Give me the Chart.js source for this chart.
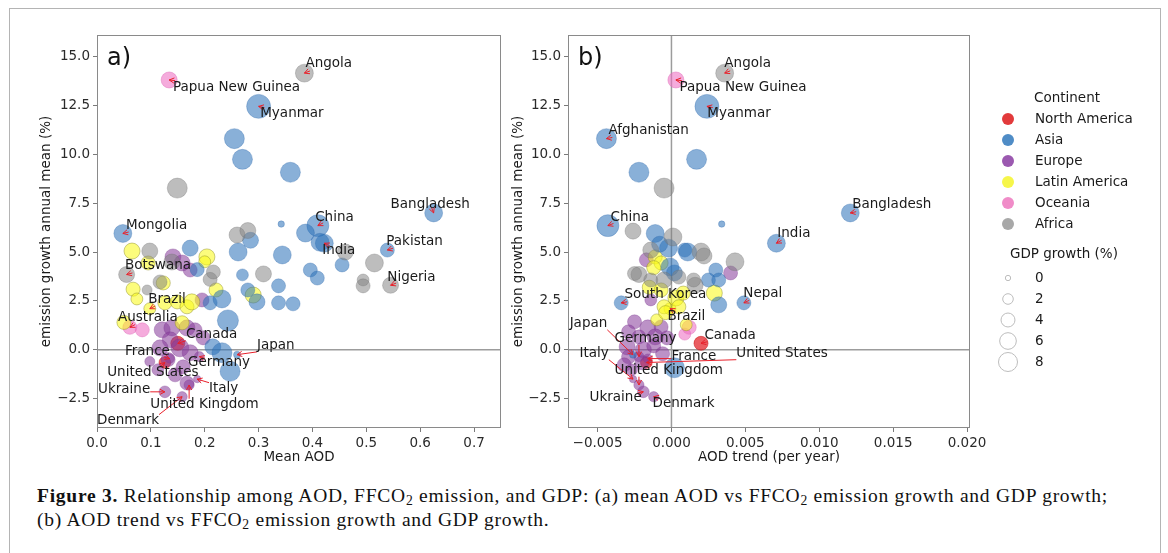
<!DOCTYPE html>
<html>
<head>
<meta charset="utf-8">
<script src="https://cdn.jsdelivr.net/npm/chart.js@4.4.0/dist/chart.umd.min.js"></script>
<style>
body{margin:0;background:#fff;width:1168px;height:553px;overflow:hidden;position:relative;font-family:"DejaVu Sans"}
#frame{position:absolute;left:9px;top:8px;width:1150px;height:600px;border:1.5px solid #b4b4b4}
#ca{position:absolute;left:0;top:0}
#cb{position:absolute;left:470px;top:0}
#cap{position:absolute;left:37px;top:484px;font-family:"Liberation Serif";font-size:19.5px;line-height:24px;color:#111;white-space:nowrap}
#cap sub{font-size:70%;vertical-align:-0.25em;line-height:0}
</style>
</head>
<body>
<div id="frame"></div>
<canvas id="ca" width="520" height="470"></canvas>
<canvas id="cb" width="690" height="470"></canvas>
<div id="cap"><span id="l1"><b>Figure 3.</b> Relationship among AOD, FFCO<sub>2</sub> emission, and GDP: (a) mean AOD vs FFCO<sub>2</sub> emission growth and GDP growth;</span><br>(b) AOD trend vs FFCO<sub>2</sub> emission growth and GDP growth.</div>
<script>
// labelled countries (same values in both panels)
const countries = ['Angola','Papua New Guinea','Myanmar','Afghanistan','Bangladesh','China','Mongolia','India','Pakistan','Nigeria','Botswana','Nepal','South Korea','Brazil','Australia','Canada','Japan','Germany','France','United States','United Kingdom','Italy','Ukraine','Denmark'];
const continentOf = ['Africa','Oceania','Asia','Asia','Asia','Asia','Asia','Asia','Asia','Africa','Africa','Asia','Asia','Latin America','Oceania','North America','Asia','Europe','Europe','North America','Europe','Europe','Europe','Europe'];
const emissionGrowth = [14.15,13.8,12.45,10.8,7.0,6.35,5.95,5.45,5.1,3.3,3.85,2.4,2.4,2.1,1.15,0.33,-0.25,-0.35,-0.45,-0.65,-1.8,-1.5,-2.15,-2.4];
const meanAOD = [0.385,0.134,0.30,0.255,0.625,0.41,0.048,0.422,0.539,0.545,0.055,0.337,0.21,0.098,0.061,0.15,0.26,0.19,0.135,0.126,0.171,0.186,0.126,0.158];
const aodTrend = [0.0036,0.0003,0.0024,-0.0044,0.0121,-0.0043,-0.0011,0.0071,0.0009,0.0016,-0.0022,0.0049,-0.0034,-0.0001,0.0012,0.002,-0.0026,-0.0022,-0.0016,-0.0017,-0.0022,-0.0026,-0.0019,-0.0012];
const gdpGrowth = [6.3,4.9,11.8,8,6.3,9.8,6.3,6.3,3.6,4.9,4.9,3.6,3.6,2.4,3.6,3.6,0.4,1.5,1.2,2.3,1.6,0.5,2.3,1.6];

// other countries, panel a: [mean AOD, emission growth, GDP growth]
const asiaA = [[0.27,9.74,8],[0.359,9.08,8],[0.342,6.43,0.2],[0.387,5.97,6.3],[0.414,5.5,6.3],[0.173,5.2,4.9],[0.262,5.0,6.3],[0.285,5.6,4.9],[0.344,4.85,6.3],[0.27,3.83,2.4],[0.186,4.1,3.6],[0.28,3.06,3.6],[0.297,2.45,4.9],[0.364,2.35,3.6],[0.232,2.6,6.3],[0.243,1.5,9],[0.215,0.15,4.9],[0.232,-0.15,8],[0.247,-1.1,8],[0.455,4.34,3.6],[0.396,4.08,3.6],[0.409,3.67,3.6],[0.337,3.27,3.6]];
const africaA = [[0.149,8.27,8],[0.26,5.87,4.9],[0.28,6.1,4.9],[0.098,5.05,4.9],[0.093,3.06,1.5],[0.117,3.47,3.6],[0.139,4.49,4.9],[0.21,3.6,3.6],[0.216,3.98,3.6],[0.309,3.88,4.9],[0.461,5.0,4.9],[0.515,4.44,6.3],[0.494,3.57,2.4],[0.494,3.27,3.6]];
const latinA = [[0.065,5.05,4.9],[0.067,3.1,3.6],[0.074,2.6,2.4],[0.095,4.44,3.6],[0.123,3.42,3.6],[0.126,2.4,3.6],[0.149,2.45,3.6],[0.167,2.2,3.6],[0.176,2.45,4.9],[0.204,4.75,4.9],[0.2,4.5,2.4],[0.221,3.06,3.6],[0.29,2.8,4.9],[0.158,1.38,3.6],[0.05,1.4,3.6]];
const europeA = [[0.141,4.75,4.9],[0.158,4.44,4.9],[0.173,4.08,3.6],[0.195,2.55,3.6],[0.121,1.02,4.9],[0.139,1.12,4.9],[0.167,1.12,4.9],[0.182,1.02,3.6],[0.136,0.51,4.9],[0.117,0.1,4.9],[0.154,0.1,6.3],[0.173,-0.15,4.9],[0.132,-0.5,3.6],[0.098,-0.6,1.5],[0.16,-0.87,3.6],[0.113,-1.02,2.4],[0.145,-1.28,3.6],[0.167,-1.7,3.6],[0.197,0.61,3.6]];
const oceaniaA = [[0.084,1.02,3.6]];
const northAmA = [];

// other countries, panel b: [AOD trend, emission growth, GDP growth]
const asiaB = [[-0.0022,9.08,8],[0.0017,9.74,8],[0.0034,6.43,0.2],[-0.0002,5.2,6.3],[0.003,4.08,3.6],[0.0025,3.57,3.6],[0.0032,3.57,3.6],[0.0032,2.3,4.9],[0.0002,3.93,4.9],[-0.0001,4.24,6.3],[0.0002,-0.92,8],[0.0011,5.0,6.3],[-0.0008,5.4,4.9]];
const africaB = [[-0.0005,8.27,8],[-0.0026,6.07,4.9],[0.0001,5.77,6.3],[0.002,5.0,6.3],[0.0043,4.5,6.3],[-0.0014,5.1,4.9],[-0.0014,3.57,3.6],[-0.0005,3.57,4.9],[0.0005,3.72,3.6],[0.0015,3.57,3.6],[-0.0025,3.9,3.6],[0.0022,4.8,4.9]];
const latinB = [[-0.0011,4.75,3.6],[-0.0007,4.44,3.6],[-0.0015,3.2,3.6],[-0.0007,3.06,3.6],[0.0003,2.65,4.9],[0.0005,2.2,3.6],[-0.0005,2.2,3.6],[-0.001,1.53,2.4],[0.001,1.28,2.4],[0.0029,2.9,4.9],[-0.0012,4.2,3.6],[0.0008,2.9,3.6],[-0.0004,1.9,3.6]];
const europeB = [[0.004,3.93,3.6],[-0.0017,4.6,3.6],[-0.0014,2.55,2.4],[-0.0025,1.43,3.6],[-0.0016,1.12,4.9],[-0.0007,1.17,3.6],[-0.0029,0.92,3.6],[-0.0022,0.66,3.6],[-0.0011,0.66,4.9],[-0.0003,0.61,3.6],[-0.003,0.15,4.9],[-0.0019,0.0,4.9],[-0.0029,-0.36,3.6],[-0.0032,-0.77,3.6],[-0.002,-0.66,3.6],[-0.0027,-1.02,2.4],[-0.0012,0.2,3.6],[-0.0006,-0.2,3.6]];
const oceaniaB = [[0.0009,0.8,2.4]];
const northAmB = [];

const emissionTicks = [-2.5,0,2.5,5,7.5,10,12.5,15];
const aodTicks = [0,0.1,0.2,0.3,0.4,0.5,0.6,0.7];
const trendTicks = [-0.005,0,0.005,0.01,0.015,0.02];
const continents = ['North America','Asia','Europe','Latin America','Oceania','Africa'];
const gdpLegend = [0,2,4,6,8];

// label text anchors (left, middle) in data units
const labelPosA = [['Angola',0.387,14.64],['Papua New Guinea',0.141,13.42],['Myanmar',0.303,12.09],['Mongolia',0.054,6.38],['China',0.405,6.79],['India',0.418,5.1],['Bangladesh',0.545,7.45],['Pakistan',0.537,5.56],['Nigeria',0.539,3.72],['Botswana',0.052,4.29],['Brazil',0.095,2.55],['Australia',0.039,1.63],['Canada',0.165,0.77],['France',0.052,-0.1],['Germany',0.169,-0.66],['Japan',0.297,0.2],['United States',0.019,-1.17],['Italy',0.208,-1.99],['Ukraine',0.002,-2.04],['United Kingdom',0.099,-2.81],['Denmark',0.0,-3.62]];
const labelPosB = [['Angola',0.00358,14.64],['Papua New Guinea',0.00054,13.42],['Myanmar',0.00243,12.09],['Afghanistan',-0.00426,11.22],['China',-0.00412,6.79],['India',0.00716,5.97],['Bangladesh',0.01223,7.45],['Nepal',0.00486,2.86],['South Korea',-0.00318,2.81],['Brazil',-0.00027,1.68],['Canada',0.00223,0.71],['Japan',-0.00689,1.33],['Germany',-0.00385,0.56],['Italy',-0.00622,-0.2],['France',0.0,-0.36],['United States',0.00439,-0.2],['United Kingdom',-0.00385,-1.07],['Ukraine',-0.00554,-2.45],['Denmark',-0.00128,-2.76]];

const FONT = 'DejaVu Sans';
const fill = {'North America':'rgba(226,30,36,0.72)','Asia':'rgba(45,115,185,0.56)','Europe':'rgba(135,60,155,0.56)','Latin America':'rgba(250,250,30,0.58)','Oceania':'rgba(238,110,195,0.58)','Africa':'rgba(128,128,128,0.52)'};
const edge = {'North America':'rgba(200,20,20,0.5)','Asia':'rgba(40,100,170,0.3)','Europe':'rgba(120,50,140,0.3)','Latin America':'rgba(140,140,40,0.45)','Oceania':'rgba(220,100,180,0.4)','Africa':'rgba(110,110,110,0.3)'};
const dot = {'North America':'#e23a3b','Asia':'#4f8cc6','Europe':'#9b59b0','Latin America':'#f6f64a','Oceania':'#f08cc8','Africa':'#a8a8a8'};

function radius(g){ return Math.sqrt(8 + 11.5*g); }
function fmt(v, d){ return v.toFixed(d).replace('-', '\u2212'); }

function datasetsFor(xs, others){
  const order = ['Africa','Asia','Latin America','Europe','Oceania','North America'];
  return order.map(c => {
    const pts = [];
    countries.forEach((n,i) => { if (continentOf[i] === c) pts.push({x:xs[i], y:emissionGrowth[i], r:radius(gdpGrowth[i])}); });
    others[c].forEach(p => pts.push({x:p[0], y:p[1], r:radius(p[2])}));
    return {label:c, data:pts, backgroundColor:fill[c], borderColor:edge[c], borderWidth:1};
  });
}

function arrow(ctx, sx, sy, ex, ey){
  const dx = ex-sx, dy = ey-sy, L = Math.hypot(dx,dy);
  if (L < 0.5) return;
  const ux = dx/L, uy = dy/L, h = 5, w = 2.6;
  ctx.beginPath();
  ctx.moveTo(sx,sy); ctx.lineTo(ex,ey);
  ctx.moveTo(ex-ux*h-uy*w, ey-uy*h+ux*w); ctx.lineTo(ex,ey); ctx.lineTo(ex-ux*h+uy*w, ey-uy*h-ux*w);
  ctx.stroke();
}

const overlay = {
  id: 'overlay',
  beforeDatasetsDraw(chart, args, o){
    const {ctx, chartArea:a, scales:{x, y}} = chart;
    ctx.save();
    ctx.strokeStyle = '#9c9c9c'; ctx.lineWidth = 1.5;
    const y0 = y.getPixelForValue(0);
    ctx.beginPath(); ctx.moveTo(a.left, y0); ctx.lineTo(a.right, y0);
    if (o.vline) { const x0 = x.getPixelForValue(0); ctx.moveTo(x0, a.top); ctx.lineTo(x0, a.bottom); }
    ctx.stroke();
    ctx.restore();
  },
  afterDatasetsDraw(chart, args, o){
    const {ctx, chartArea:a, scales:{x, y}} = chart;
    ctx.save();
    ctx.strokeStyle = '#8a8a8a'; ctx.lineWidth = 1;
    ctx.strokeRect(a.left+0.5, a.top+0.5, a.right-a.left-1, a.bottom-a.top-1);
    // panel letter
    ctx.fillStyle = '#111'; ctx.font = '24px ' + FONT; ctx.textBaseline = 'alphabetic';
    ctx.fillText(o.letter, a.left+10, a.top+30);
    // labels with arrows
    ctx.font = '13.5px ' + FONT; ctx.textBaseline = 'middle'; ctx.textAlign = 'left';
    ctx.strokeStyle = '#e8202a'; ctx.lineWidth = 1;
    const boxes = o.labels.map(([name, tx, ty]) => {
      const i = countries.indexOf(name);
      const px = x.getPixelForValue(o.xs[i]), py = y.getPixelForValue(emissionGrowth[i]);
      const lx = x.getPixelForValue(tx), ly = y.getPixelForValue(ty);
      const w = ctx.measureText(name).width;
      const L = lx, R = lx+w, T = ly-6, B = ly+6;
      let sx = Math.min(Math.max(px, L), R), sy = Math.min(Math.max(py, T), B);
      let d = Math.hypot(px-sx, py-sy);
      if (d < 6) {
        const cx = (L+R)/2, cy = ly; const dd = Math.hypot(cx-px, cy-py) || 1;
        sx = px + (cx-px)/dd*6; sy = py + (cy-py)/dd*6;
      }
      arrow(ctx, sx, sy, px, py);
      return [name, lx, ly];
    });
    ctx.fillStyle = '#1a1a1a';
    boxes.forEach(([name, lx, ly]) => ctx.fillText(name, lx, ly));
    ctx.restore();
  },
  afterDraw(chart, args, o){
    if (!o.legend) return;
    const ctx = chart.ctx, off = 470;
    ctx.save();
    ctx.font = '13.5px ' + FONT; ctx.fillStyle = '#1a1a1a'; ctx.textBaseline = 'middle';
    ctx.textAlign = 'center'; ctx.fillText('Continent', 1067-off, 98);
    ctx.textAlign = 'left';
    continents.forEach((c, k) => {
      const yy = 119 + k*21;
      ctx.beginPath(); ctx.arc(1008-off, yy, 6, 0, Math.PI*2); ctx.fillStyle = dot[c]; ctx.fill();
      ctx.fillStyle = '#1a1a1a'; ctx.fillText(c, 1035-off, yy);
    });
    ctx.fillText('GDP growth (%)', 1010-off, 254);
    ctx.strokeStyle = '#bdbdbd'; ctx.lineWidth = 1;
    gdpLegend.forEach((g, k) => {
      const yy = 278 + k*21;
      ctx.beginPath(); ctx.arc(1008-off, yy, radius(g)*0.95, 0, Math.PI*2); ctx.stroke();
      ctx.fillText(String(g), 1035-off, yy);
    });
    ctx.restore();
  }
};

function axisBase(ticksArr, dec, title){
  return {
    type: 'linear',
    afterBuildTicks: s => { s.ticks = ticksArr.map(v => ({value: v})); },
    grid: {drawOnChartArea:false, drawTicks:true, tickLength:4, color:'#7a7a7a'},
    border: {display:false},
    ticks: {font:{family:FONT, size:13.5}, color:'#2a2a2a', padding:3, autoSkip:false, maxRotation:0,
      callback: v => fmt(v, dec)},
    title: {display:true, text:title, font:{family:FONT, size:13.5}, color:'#1a1a1a', padding:{top:4, bottom:4}}
  };
}

function makeChart(id, xs, others, xTicks, xDec, xTitle, xmin, xmax, pad, yWidth, o){
  const xAxis = Object.assign(axisBase(xTicks, xDec, xTitle), {min:xmin, max:xmax, afterFit: s => { s.height = 42; }});
  const yAxis = Object.assign(axisBase(emissionTicks, 1, 'emission growth annual mean (%)'), {min:-4, max:16.1, afterFit: s => { s.width = yWidth; }});
  return new Chart(document.getElementById(id), {
    type: 'bubble',
    data: {datasets: datasetsFor(xs, others)},
    options: {
      responsive: false, animation: false,
      layout: {padding: pad},
      plugins: {legend:{display:false}, tooltip:{enabled:false}, overlay: Object.assign({xs}, o)},
      scales: {x: xAxis, y: yAxis}
    },
    plugins: [overlay]
  });
}

makeChart('ca', meanAOD,
  {'Asia':asiaA,'Africa':africaA,'Latin America':latinA,'Europe':europeA,'Oceania':oceaniaA,'North America':northAmA},
  aodTicks, 1, 'Mean AOD', 0, 0.75, {left:34, top:35, right:19, bottom:0}, 63,
  {letter:'a)', labels:labelPosA, vline:false, legend:false});

makeChart('cb', aodTrend,
  {'Asia':asiaB,'Africa':africaB,'Latin America':latinB,'Europe':europeB,'Oceania':oceaniaB,'North America':northAmB},
  trendTicks, 3, 'AOD trend (per year)', -0.007, 0.0202, {left:36, top:35, right:190, bottom:0}, 62,
  {letter:'b)', labels:labelPosB, vline:true, legend:true});

// fit caption first line to the reference width
const l1 = document.getElementById('l1');
const w1 = l1.getBoundingClientRect().width;
const n1 = l1.textContent.length;
document.getElementById('cap').style.letterSpacing = ((1071 - w1) / n1).toFixed(3) + 'px';
</script>
</body>
</html>
